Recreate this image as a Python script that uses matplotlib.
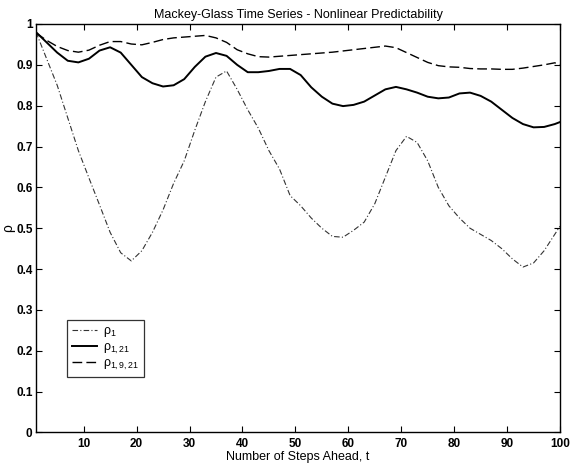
import matplotlib
matplotlib.use("Agg")
import matplotlib.pyplot as plt
from matplotlib.ticker import FuncFormatter

plt.rcParams['font.family'] = ['Liberation Sans', 'DejaVu Sans']
plt.rcParams['mathtext.fontset'] = 'custom'
plt.rcParams['mathtext.rm'] = 'Liberation Sans'
plt.rcParams['mathtext.it'] = 'Liberation Sans'

steps = [1, 3, 5, 7, 9, 11, 13, 15, 17, 19, 21, 23, 25, 27, 29, 31, 33, 35, 37, 39,
         41, 43, 45, 47, 49, 51, 53, 55, 57, 59, 61, 63, 65, 67, 69, 71, 73, 75, 77, 79,
         81, 83, 85, 87, 89, 91, 93, 95, 97, 99, 100]

rho_1 = [0.98, 0.915, 0.85, 0.77, 0.69, 0.623, 0.557, 0.49, 0.44, 0.42,
         0.445, 0.49, 0.545, 0.61, 0.665, 0.74, 0.81, 0.87, 0.885, 0.84,
         0.79, 0.745, 0.69, 0.645, 0.58, 0.555, 0.525, 0.50, 0.48, 0.478,
         0.495, 0.515, 0.56, 0.625, 0.69, 0.725, 0.71, 0.665, 0.60, 0.555,
         0.525, 0.50, 0.485, 0.47, 0.45, 0.425, 0.405, 0.415, 0.445, 0.485, 0.505]

rho_1_21 = [0.98, 0.955, 0.93, 0.91, 0.906, 0.915, 0.935, 0.943, 0.93, 0.90,
            0.87, 0.855, 0.847, 0.85, 0.865, 0.895, 0.92, 0.929, 0.922, 0.90,
            0.882, 0.882, 0.885, 0.89, 0.89, 0.875, 0.845, 0.822, 0.805, 0.799,
            0.802, 0.81, 0.825, 0.84, 0.846, 0.84, 0.832, 0.822, 0.818, 0.82,
            0.83, 0.832, 0.824, 0.81, 0.79, 0.77, 0.755, 0.747, 0.748, 0.755, 0.76]

rho_1_9_21 = [0.978, 0.96, 0.945, 0.935, 0.931, 0.936, 0.948, 0.957, 0.957, 0.951,
              0.949, 0.955, 0.962, 0.966, 0.968, 0.97, 0.972, 0.966, 0.955, 0.937,
              0.927, 0.92, 0.919, 0.921, 0.923, 0.925, 0.927, 0.929, 0.931, 0.934,
              0.937, 0.94, 0.943, 0.946, 0.942, 0.93, 0.918, 0.906, 0.898, 0.895,
              0.894, 0.891, 0.89, 0.89, 0.889, 0.889, 0.892, 0.896, 0.90, 0.905, 0.90]

labels = [r'$\rho_1$', r'$\rho_{1,21}$', r'$\rho_{1,9,21}$']
title = 'Mackey-Glass Time Series - Nonlinear Predictability'
xlabel = 'Number of Steps Ahead, t'
ylabel = 'ρ'
xticks = [10, 20, 30, 40, 50, 60, 70, 80, 90, 100]
yticks = [0, 0.1, 0.2, 0.3, 0.4, 0.5, 0.6, 0.7, 0.8, 0.9, 1]

fig = plt.figure(figsize=(5.7, 4.65), dpi=100)
ax = fig.add_axes([0.0632, 0.0699, 0.9193, 0.8785])

ax.plot(steps, rho_1, color='#333333', lw=0.8, linestyle=(0, (5, 2, 1, 2)), label=labels[0])
ax.plot(steps, rho_1_21, color='black', lw=1.4, linestyle='-', label=labels[1])
ax.plot(steps, rho_1_9_21, color='black', lw=1.0, linestyle=(0, (7, 3)), label=labels[2])

ax.set_xlim(1, 100)
ax.set_ylim(0, 1)
ax.set_xticks(xticks)
ax.set_yticks(yticks)
ax.yaxis.set_major_formatter(FuncFormatter(lambda v, p: ('%g' % v)))
ax.tick_params(direction='in', top=True, right=True, labelsize=8.5, length=4, width=0.8)
ax.tick_params(axis='y', pad=2.5)
ax.tick_params(axis='x', pad=4)
for lab in ax.get_xticklabels() + ax.get_yticklabels():
    lab.set_fontweight('bold')
for s in ax.spines.values():
    s.set_linewidth(1.0)

ax.set_title(title, fontsize=9, pad=4)
ax.set_xlabel(xlabel, fontsize=9, labelpad=1)
ax.set_ylabel(ylabel, fontsize=10)
ax.yaxis.set_label_coords(-0.04, 0.5)

leg = ax.legend(loc='lower left', bbox_to_anchor=(0.0586, 0.1366), fontsize=9,
                frameon=True, fancybox=False, edgecolor='black', handlelength=2.0,
                borderpad=0.4, labelspacing=0.15, borderaxespad=0, handletextpad=0.5)
leg.get_frame().set_linewidth(0.9)

fig.savefig('out.png', dpi=100)
